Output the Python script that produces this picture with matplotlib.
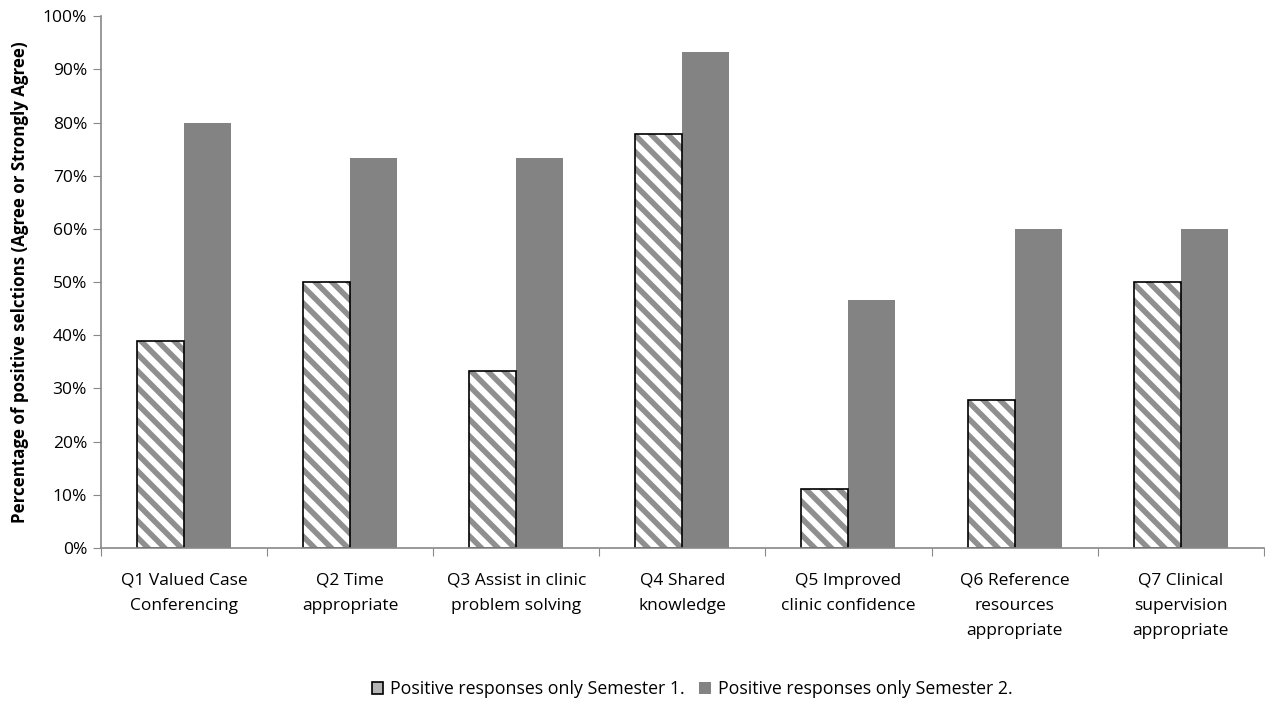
import matplotlib
matplotlib.use('Agg')
import numpy as np
import matplotlib.pyplot as plt
from matplotlib.ticker import PercentFormatter
from matplotlib.patches import Patch

#Data
categories = ["Q1 Valued Case\nConferencing", "Q2 Time\nappropriate", "Q3 Assist in clinic\nproblem solving",
              "Q4 Shared\nknowledge", "Q5 Improved\nclinic confidence", "Q6 Reference\nresources\nappropriate",
              "Q7 Clinical\nsupervision\nappropriate"]
semester1 = [38.9, 50.0, 33.3, 77.8, 11.1, 27.8, 50.0]
semester2 = [80.0, 73.3, 73.3, 93.3, 46.7, 60.0, 60.0]
label1 = "Positive responses only Semester 1."
label2 = "Positive responses only Semester 2."

plt.rcParams['font.family'] = ['Open Sans', 'DejaVu Sans']
plt.rcParams['hatch.linewidth'] = 4.0

fig = plt.figure(figsize=(12.65, 7.02), dpi=100)
ax = fig.add_axes([0.0798, 0.2194, 0.9192, 0.7576])

x = np.arange(len(categories))
w = 0.283
#hatch drawn in gray, outline drawn separately in black
ax.bar(x - w/2, semester1, w, facecolor='white', edgecolor='#8f8f8f', linewidth=0, hatch='\\\\', zorder=2)
ax.bar(x - w/2, semester1, w, fill=False, edgecolor='black', linewidth=1.2, zorder=2.5)
ax.bar(x + w/2, semester2, w, color='#838383', linewidth=0, zorder=2)

ax.set_xlim(-0.5, len(categories) - 0.5)
ax.set_ylim(0, 100)
ax.set_yticks(np.arange(0, 101, 10))
ax.yaxis.set_major_formatter(PercentFormatter(decimals=0))
ax.set_xticks(np.arange(len(categories) + 1) - 0.5)
ax.set_xticklabels([])
ax.set_xticks(x, minor=True)
ax.set_xticklabels(categories, minor=True, fontsize=12.5, linespacing=1.75)
ax.tick_params(axis='x', which='minor', length=0, pad=18)
ax.tick_params(axis='x', which='major', length=6, color='#888888', direction='out')
ax.tick_params(axis='y', length=6, color='#888888', labelsize=12.5, pad=4)
ax.yaxis.grid(True, color='white', alpha=0.08, zorder=3)

for s in ['top', 'right']:
    ax.spines[s].set_visible(False)
for s in ['left', 'bottom']:
    ax.spines[s].set_color('#888888')
    ax.spines[s].set_linewidth(1.2)

ax.set_ylabel("Percentage of positive selctions (Agree or Strongly Agree)", fontsize=12.2, fontweight='bold', labelpad=10)

h1 = Patch(facecolor='#b5b5b5', edgecolor='black', linewidth=1.2)
h2 = Patch(facecolor='#838383', linewidth=0)
fig.legend(handles=[h1, h2], labels=[label1, label2], loc='center', bbox_to_anchor=(0.547, 0.018), ncol=2, frameon=False,
           fontsize=12.8, handlelength=0.65, handleheight=0.65, handletextpad=0.4, columnspacing=0.8)

plt.savefig('out.png', dpi=100)
